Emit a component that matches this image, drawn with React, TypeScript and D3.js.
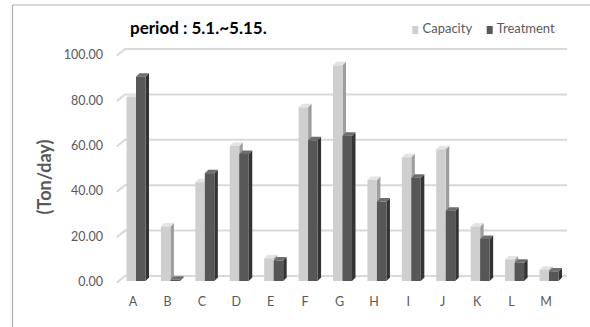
import React from "react";
import * as d3 from "d3";

const categories = ["A", "B", "C", "D", "E", "F", "G", "H", "I", "J", "K", "L", "M"];
const capacity = [81, 24, 43.5, 59.5, 10, 76.5, 95, 44.5, 54.5, 58, 24, 9.5, 5];
const treatment = [90, 0.5, 47.5, 56, 9, 62, 64, 35, 45.5, 31, 18.5, 8, 4.2];
const yTicks = [0, 20, 40, 60, 80, 100];
const seriesNames = ["Capacity", "Treatment"];

const W = 590;
const H = 327;
const FONT = "Lato, 'Open Sans', sans-serif";
const TXT = "#595959";

const capColors = { front: "#cfcfcf", side: "#9e9e9e", top: "#e4e4e4" };
const trtColors = { front: "#575757", side: "#333333", top: "#6e6e6e" };

export default function App() {
  const x = d3.scaleBand<string>().domain(categories).range([115.8, 563.2]);
  const yBack = d3.scaleLinear().domain([0, 100]).range([276, 49]);
  const yFront = d3.scaleLinear().domain([0, 100]).range([281, 54]);
  const depth = 3.5;
  const bw = 9.5;
  const wallLeft = 125;
  const wallRight = 567;
  const slantX = 116.7;
  const slantDy = 6.7;

  const bar = (x0: number, v: number, c: { front: string; side: string; top: string }, key: string) => {
    const y0 = yFront(0);
    const y = yFront(v);
    const d = depth;
    return (
      <g key={key}>
        <polygon
          points={`${x0 + bw},${y} ${x0 + bw + d},${y - d} ${x0 + bw + d},${y0 - d} ${x0 + bw},${y0}`}
          fill={c.side}
        />
        <polygon
          points={`${x0},${y} ${x0 + d},${y - d} ${x0 + bw + d},${y - d} ${x0 + bw},${y}`}
          fill={c.top}
        />
        <rect x={x0} y={y} width={bw} height={Math.max(0, y0 - y)} fill={c.front} />
      </g>
    );
  };

  return (
    <svg
      width={W}
      height={H}
      style={{ position: "absolute", left: 0, top: 0, display: "block", background: "#ffffff" }}
    >
      {/* frame */}
      <line x1={12.5} y1={5} x2={W} y2={5} stroke="#b0b0b0" strokeWidth={1.2} />
      <line x1={12.5} y1={5} x2={12.5} y2={H} stroke="#b0b0b0" strokeWidth={1.2} />

      {/* gridlines */}
      {yTicks.map((t) => (
        <polyline
          key={t}
          points={`${slantX},${yBack(t) + slantDy} ${wallLeft},${yBack(t)} ${wallRight},${yBack(t)}`}
          fill="none"
          stroke="#d9d9d9"
          strokeWidth={2}
        />
      ))}

      {/* y tick labels */}
      {yTicks.map((t) => (
        <text
          key={"l" + t}
          x={103}
          y={yBack(t) + 7}
          textAnchor="end"
          dominantBaseline="middle"
          fontFamily={FONT}
          fontSize={12.5}
          fill={TXT}
        >
          {t.toFixed(2)}
        </text>
      ))}

      {/* bars */}
      {categories.map((cat, i) => {
        const cx = (x(cat) as number) + x.bandwidth() / 2;
        return (
          <g key={cat}>
            {bar(cx - 6.5, capacity[i], capColors, "c" + cat)}
            {bar(cx + 3, treatment[i], trtColors, "t" + cat)}
          </g>
        );
      })}

      {/* x labels */}
      {categories.map((cat) => (
        <text
          key={"x" + cat}
          x={(x(cat) as number) + x.bandwidth() / 2}
          y={303}
          textAnchor="middle"
          dominantBaseline="middle"
          fontFamily={FONT}
          fontSize={12.5}
          fill={TXT}
        >
          {cat}
        </text>
      ))}

      {/* y axis title */}
      <text
        transform={`translate(46,177) rotate(-90)`}
        textAnchor="middle"
        dominantBaseline="middle"
        fontFamily={FONT}
        fontWeight="bold"
        fontSize={18}
        fill={TXT}
      >
        (Ton/day)
      </text>

      {/* title */}
      <text
        x={130}
        y={30}
        dominantBaseline="middle"
        fontFamily={FONT}
        fontWeight="bold"
        fontSize={17}
        fill="#000000"
      >
        period : 5.1.~5.15.
      </text>

      {/* legend */}
      <rect x={412.3} y={26} width={6} height={8} fill={capColors.front} />
      <text x={422.5} y={30} dominantBaseline="middle" fontFamily={FONT} fontSize={13} fill={TXT}>
        {seriesNames[0]}
      </text>
      <rect x={486.7} y={26} width={6} height={8} fill={trtColors.front} />
      <text x={496.7} y={30} dominantBaseline="middle" fontFamily={FONT} fontSize={13} fill={TXT}>
        {seriesNames[1]}
      </text>
    </svg>
  );
}
